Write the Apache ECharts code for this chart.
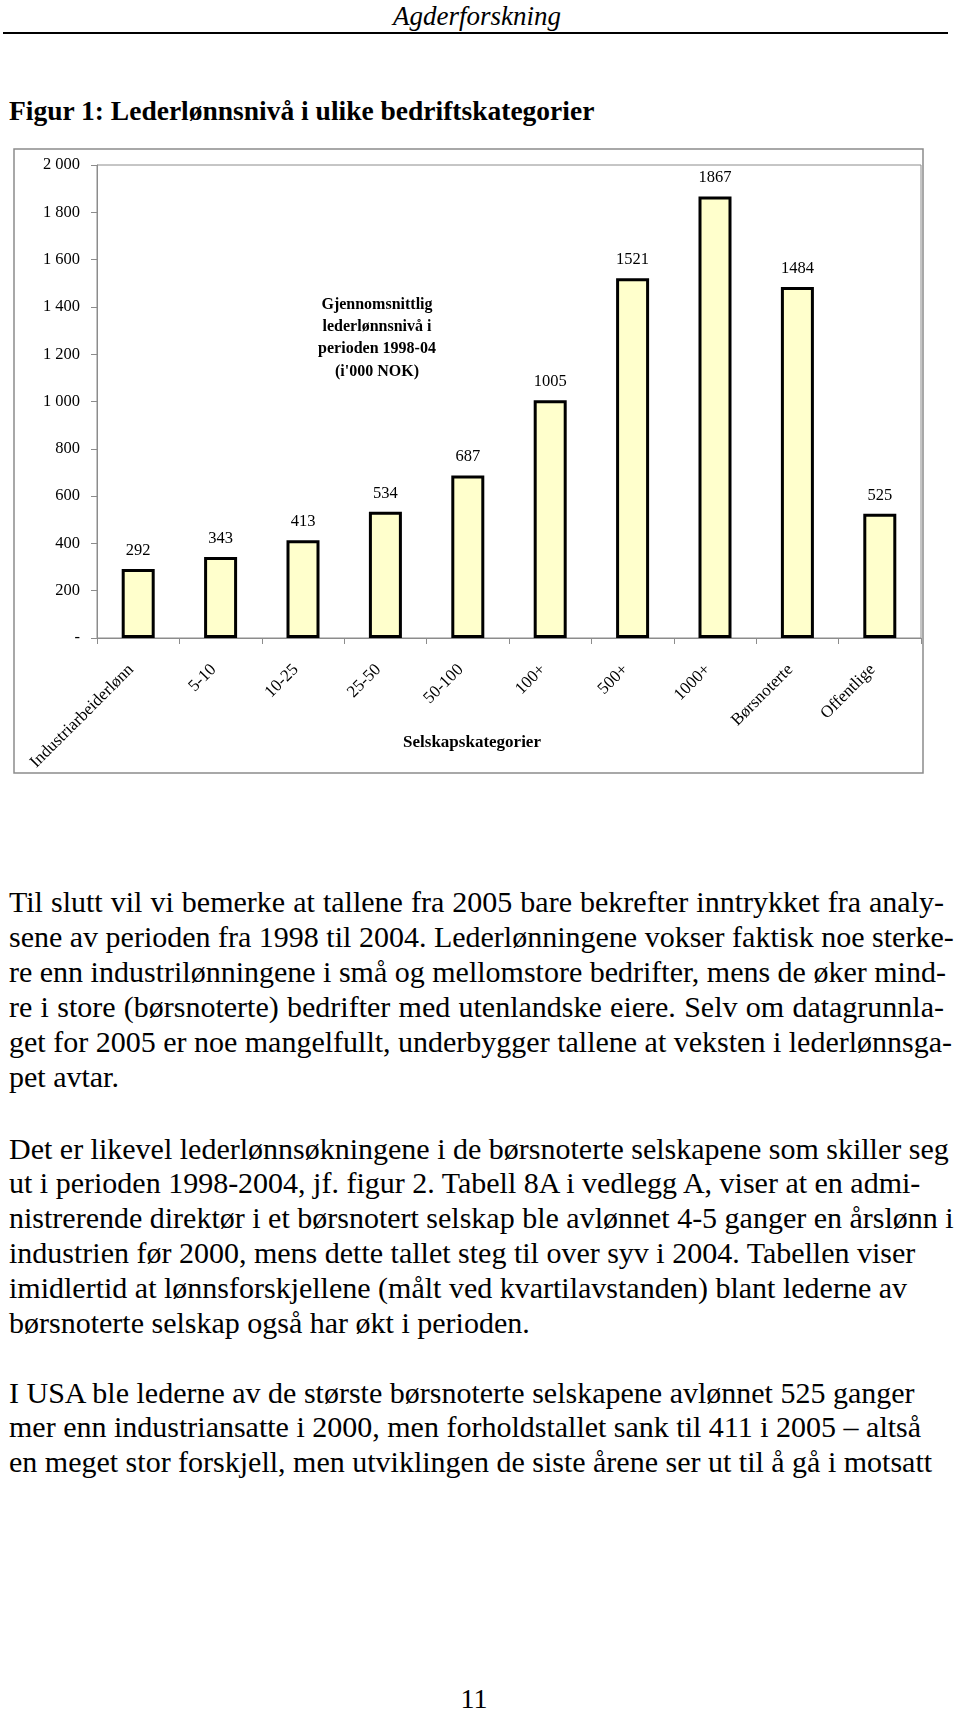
<!DOCTYPE html>
<html>
<head>
<meta charset="utf-8">
<script src="https://cdn.jsdelivr.net/npm/echarts@6/dist/echarts.min.js"></script>
<style>
html,body{margin:0;padding:0;background:#fff;}
body{width:960px;height:1709px;position:relative;overflow:hidden;font-family:"Liberation Serif","Times New Roman",serif;color:#000;}
.t{position:absolute;white-space:nowrap;}
#chart{position:absolute;left:0;top:140px;width:960px;height:650px;}
.line{position:absolute;left:9px;font-size:30px;line-height:35px;white-space:nowrap;}
.j{width:935px;text-align:justify;text-align-last:justify;}
</style>
</head>
<body>
<div class="t" style="left:0;width:954px;text-align:center;top:1px;font-size:27px;line-height:30px;font-style:italic;">Agderforskning</div>
<div style="position:absolute;left:3px;top:32px;width:945px;height:2px;background:#000;"></div>
<div class="t" style="left:9px;top:96px;font-size:27.5px;line-height:30px;font-weight:bold;">Figur 1: Lederlønnsnivå i ulike bedriftskategorier</div>
<div id="chart"></div>
<div id="text"></div>
<div class="t" style="left:0;width:948px;text-align:center;top:1685px;font-size:28px;line-height:28px;">11</div>
<script>
// ---- data ----
const categories = ["Industriarbeiderlønn", "5-10", "10-25", "25-50", "50-100", "100+", "500+", "1000+", "Børsnoterte", "Offentlige"];
const values = [292, 343, 413, 534, 687, 1005, 1521, 1867, 1484, 525];
const yMin = 0, yMax = 2000, yStep = 200;
const chartNote = ["Gjennomsnittlig", "lederlønnsnivå i", "perioden 1998-04", "(i'000 NOK)"];
const xAxisTitle = "Selskapskategorier";

// ---- body text ----
const para1 = [
  "Til slutt vil vi bemerke at tallene fra 2005 bare bekrefter inntrykket fra analy-",
  "sene av perioden fra 1998 til 2004. Lederlønningene vokser faktisk noe sterke-",
  "re enn industrilønningene i små og mellomstore bedrifter, mens de øker mind-",
  "re i store (børsnoterte) bedrifter med utenlandske eiere. Selv om datagrunnla-",
  "get for 2005 er noe mangelfullt, underbygger tallene at veksten i lederlønnsga-",
  "pet avtar."
];
const para2 = [
  "Det er likevel lederlønnsøkningene i de børsnoterte selskapene som skiller seg",
  "ut i perioden 1998-2004, jf. figur 2. Tabell 8A i vedlegg A, viser at en admi-",
  "nistrerende direktør i et børsnotert selskap ble avlønnet 4-5 ganger en årslønn i",
  "industrien før 2000, mens dette tallet steg til over syv i 2004. Tabellen viser",
  "imidlertid at lønnsforskjellene (målt ved kvartilavstanden) blant lederne av",
  "børsnoterte selskap også har økt i perioden."
];
const para3 = [
  "I USA ble lederne av de største børsnoterte selskapene avlønnet 525 ganger",
  "mer enn industriansatte i 2000, men forholdstallet sank til 411 i 2005 – altså",
  "en meget stor forskjell, men utviklingen de siste årene ser ut til å gå i motsatt"
];

(function () {
  const host = document.getElementById('text');
  function put(lines, firstTop, justifyAllButLast) {
    lines.forEach(function (s, i) {
      const d = document.createElement('div');
      d.className = 'line' + (justifyAllButLast && i < lines.length - 1 ? ' j' : '');
      d.style.top = (firstTop + i * 34.9) + 'px';
      d.textContent = s;
      host.appendChild(d);
    });
  }
  put(para1, 884, true);
  put(para2, 1130.5, false);
  put(para3, 1374.5, false);
})();

// ---- chart ----
const serif = '"Liberation Serif","Times New Roman",serif';
const chart = echarts.init(document.getElementById('chart'), null, {renderer: 'canvas'});
chart.setOption({
  animation: false,
  backgroundColor: '#fff',
  grid: {left: 97, top: 25, width: 824, height: 473, show: true, borderColor: '#8c8c8c', borderWidth: 1, containLabel: false},
  xAxis: {
    type: 'category',
    data: categories,
    boundaryGap: true,
    axisLine: {lineStyle: {color: '#8c8c8c', width: 1}},
    axisTick: {show: true, length: 6, alignWithLabel: false, interval: 0, lineStyle: {color: '#8c8c8c'}},
    axisLabel: {interval: 0, rotate: 45, margin: 22, padding: [0, 10, 0, 0], fontFamily: serif, fontSize: 17, color: '#000'},
    splitLine: {show: false}
  },
  yAxis: {
    type: 'value',
    min: yMin, max: yMax, interval: yStep,
    axisLine: {show: true, lineStyle: {color: '#8c8c8c', width: 1}},
    axisTick: {show: true, length: 6, lineStyle: {color: '#8c8c8c'}},
    axisLabel: {
      margin: 17, fontFamily: serif, fontSize: 16.5, color: '#000',
      formatter: function (v) {
        if (v === 0) return '-';
        return String(v).replace(/\B(?=(\d{3})+(?!\d))/g, ' ');
      }
    },
    splitLine: {show: false}
  },
  series: [{
    type: 'bar',
    data: values,
    barWidth: 33,
    itemStyle: {color: '#FFFFCC', borderColor: '#000', borderWidth: 3},
    label: {show: true, position: 'top', distance: 10, fontFamily: serif, fontSize: 16.5, color: '#000'}
  }],
  graphic: [
    {type: 'rect', shape: {x: 14, y: 9, width: 909, height: 624}, style: {fill: 'none', stroke: '#8c8c8c', lineWidth: 1.5}, silent: true, z: 0},
    {type: 'text', x: 377, y: 198, style: {text: chartNote.join('\n'), fontFamily: serif, fontSize: 16, fontWeight: 'bold', fill: '#000', align: 'center', verticalAlign: 'middle', lineHeight: 22.3}},
    {type: 'text', x: 472, y: 603, style: {text: xAxisTitle, fontFamily: serif, fontSize: 17, fontWeight: 'bold', fill: '#000', align: 'center', verticalAlign: 'middle'}}
  ]
});
</script>
</body>
</html>
